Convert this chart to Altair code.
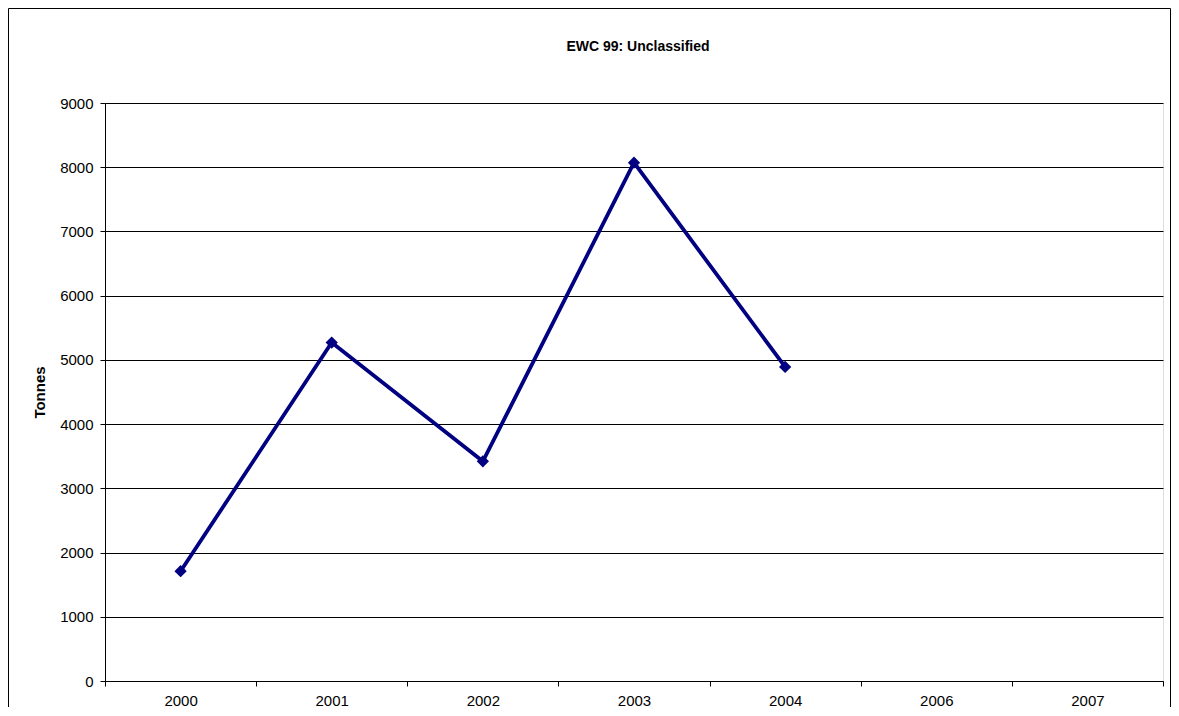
import altair as alt
import pandas as pd

years = ["2000", "2001", "2002", "2003", "2004", "2006", "2007"]
tonnes = [1710, 5270, 3420, 8070, 4890, None, None]
y_ticks = [0, 1000, 2000, 3000, 4000, 5000, 6000, 7000, 8000, 9000]
chart_title = "EWC 99: Unclassified"

df = pd.DataFrame({"year": years, "tonnes": tonnes})

FONT = "Liberation Sans"
FS = 15
W, H = 1058, 578
PL, PT, PR, PB = 97, 95, 8, 26

x_enc = alt.X(
    "year:O",
    bandPosition=0.5,
    scale=alt.Scale(type="band", domain=years, paddingInner=0, paddingOuter=0),
    axis=alt.Axis(
        title=None, labelAngle=0, tickBand="extent", tickSize=5, tickColor="black",
        domainColor="black", labelColor="black", labelFontSize=FS, labelFont=FONT,
        labelPadding=7, grid=False,
    ),
)
y_enc = alt.Y(
    "tonnes:Q",
    scale=alt.Scale(domain=[0, 9000], nice=False),
    axis=alt.Axis(
        title="Tonnes", values=y_ticks, format="d", grid=True, gridColor="black",
        gridOpacity=1, gridWidth=1, tickSize=5, tickColor="black", domainColor="black",
        labelColor="black", labelFontSize=FS, labelFont=FONT, labelPadding=7,
        titleFont=FONT, titleFontSize=FS, titleFontWeight="bold", titleColor="black",
        titlePadding=12,
    ),
)

base = alt.Chart(df)
line = base.mark_line(color="#000080", strokeWidth=3.8).encode(x=x_enc, y=y_enc)
pts = base.mark_point(shape="diamond", filled=True, color="#000080", size=150, opacity=1).encode(
    x=x_enc, y=y_enc
)

one = pd.DataFrame({"t": [chart_title]})
frame = alt.Chart(one).mark_rect(fill=None, stroke="black", strokeWidth=1).encode(
    x=alt.value(-PL + 0.5), x2=alt.value(W + PR - 0.5),
    y=alt.value(-PT + 0.5), y2=alt.value(H + 60),
)
title = alt.Chart(one).mark_text(
    font=FONT, fontSize=14, fontWeight="bold", color="black", align="center", baseline="middle"
).encode(text="t:N", x=alt.value(W / 2 + 4), y=alt.value(47 - 8 - PT))

chart = alt.layer(frame, line, pts, title).properties(
    width=W, height=H,
    autosize=alt.AutoSizeParams(type="none"),
    padding={"left": PL, "top": PT, "right": PR, "bottom": PB},
).configure_view(stroke="#808080", strokeWidth=1).configure(background="white")

chart.save("out.html", embed_options={"renderer": "svg", "actions": False})
